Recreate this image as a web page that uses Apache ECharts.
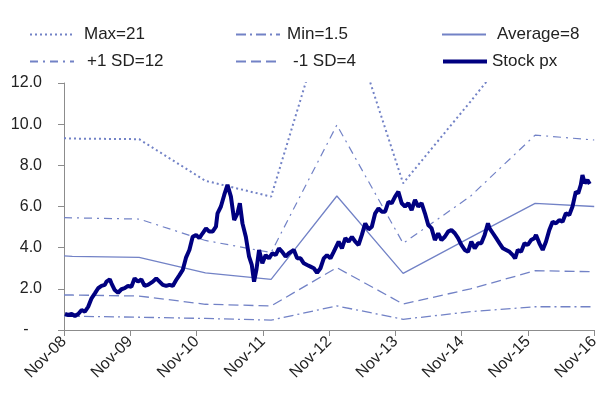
<!DOCTYPE html>
<html>
<head>
<meta charset="utf-8">
<script src="https://cdn.jsdelivr.net/npm/echarts@6/dist/echarts.min.js"></script>
<style>
html,body{margin:0;padding:0;background:#fff;}
#chart{width:602px;height:393px;}
</style>
</head>
<body>
<div id="chart"></div>
<script>
// x values are months since Nov-08
const tickLabels = ['Nov-08','Nov-09','Nov-10','Nov-11','Nov-12','Nov-13','Nov-14','Nov-15','Nov-16'];

const statMonths = [0, 1.5, 13.6, 25.6, 37.5, 49.4, 61.4, 73.6, 85.3, 96];
const maxVals   = [9.32, 9.30, 9.27, 7.25, 6.48, 17.0, 7.13, 11.1, 15.0, 15.0];
const sdUpVals  = [5.46, 5.45, 5.39, 4.35, 3.76, 9.96, 4.21, 6.50, 9.47, 9.23];
const avgVals   = [3.60, 3.58, 3.53, 2.78, 2.46, 6.51, 2.75, 4.50, 6.15, 6.00];
const sdDnVals  = [1.70, 1.70, 1.65, 1.25, 1.17, 3.03, 1.26, 2.00, 2.88, 2.83];
const minVals   = [0.68, 0.67, 0.62, 0.56, 0.48, 1.17, 0.52, 0.89, 1.13, 1.13];

const stockMonths = [0.18,0.77,1.39,1.98,2.58,3.19,3.78,4.38,4.99,5.59,6.18,6.79,7.39,7.69,8.29,8.59,9.19,9.78,10.40,10.99,11.59,12.20,12.79,13.39,14.00,14.59,15.19,16.09,16.70,17.30,17.89,18.50,19.10,19.69,20.31,20.90,21.50,22.11,22.70,23.30,23.91,24.50,25.10,25.71,26.31,26.90,27.51,27.80,28.41,29.01,29.60,30.22,30.81,31.41,31.84,32.31,32.92,33.51,34.00,34.41,34.83,35.32,35.91,36.52,37.12,37.71,38.32,38.92,39.51,40.13,40.72,41.62,42.22,42.83,43.42,44.02,44.63,45.23,45.82,46.43,47.03,47.62,48.24,48.83,49.73,50.32,50.94,51.53,52.13,52.74,53.33,53.93,54.54,55.14,55.73,56.34,56.94,57.53,58.14,58.74,59.33,59.95,60.54,61.14,61.75,62.34,62.94,63.55,64.14,64.74,65.35,65.95,66.54,67.15,67.75,68.34,68.95,69.55,70.14,70.76,71.35,71.95,72.56,73.15,73.75,74.36,74.95,75.55,76.16,76.76,77.06,77.66,78.25,78.86,79.46,80.05,80.67,81.26,81.68,82.16,82.76,83.37,83.96,84.56,85.17,85.46,86.07,86.67,87.26,87.87,88.47,89.06,89.67,90.27,90.87,91.48,92.07,92.67,93.10,93.57,93.87,94.29,94.77,95.19];
const stockPx = [0.78,0.73,0.78,0.68,0.78,0.97,0.89,1.13,1.54,1.78,2.03,2.14,2.19,2.35,2.46,2.27,1.94,1.81,1.98,2.03,2.14,2.10,2.51,2.35,2.46,2.14,2.19,2.35,2.51,2.35,2.19,2.14,2.19,2.14,2.43,2.67,2.92,3.53,3.89,4.53,4.62,4.46,4.70,4.94,4.78,4.78,5.02,5.67,6.00,6.56,7.05,6.48,5.34,5.67,6.16,5.18,4.53,3.56,3.16,2.35,2.92,3.89,3.24,3.64,3.48,3.73,3.64,3.97,3.80,3.56,3.73,3.89,3.48,3.48,3.24,3.16,3.08,3.00,2.78,3.00,3.48,3.64,3.48,3.80,4.29,3.97,4.46,4.29,4.53,4.29,4.13,4.62,5.18,4.89,5.02,5.67,5.91,5.75,5.75,6.23,6.16,6.48,6.72,6.16,6.00,6.16,5.83,6.32,6.00,6.16,5.67,5.10,4.95,4.37,4.70,4.37,4.53,4.78,4.86,4.70,4.46,4.13,3.89,3.80,4.29,3.97,4.21,4.21,4.62,5.18,4.94,4.70,4.46,4.21,3.97,3.89,3.80,3.64,3.48,3.89,3.80,4.21,4.13,4.37,4.46,4.62,4.21,3.89,4.29,4.86,5.26,5.18,5.34,5.26,5.67,5.59,6.00,6.72,6.64,7.05,7.53,7.13,7.29,7.09];

const statColor = '#7282c6';
const FONT = '"Liberation Sans", Arial, sans-serif';

function pairs(xs, ys){ return xs.map((x,i)=>[x, ys[i]]); }

const seriesDefs = [
  {name:'Max=21', data:pairs(statMonths,maxVals), lineStyle:{color:statColor,width:2,type:[2,3]}},
  {name:'Min=1.5', data:pairs(statMonths,minVals), lineStyle:{color:statColor,width:1.3,type:[10,4,2,4]}},
  {name:'Average=8', data:pairs(statMonths,avgVals), lineStyle:{color:statColor,width:1.3,type:'solid'}},
  {name:'+1 SD=12', data:pairs(statMonths,sdUpVals), lineStyle:{color:statColor,width:1.2,type:[8,5,2,5]}},
  {name:'-1 SD=4', data:pairs(statMonths,sdDnVals), lineStyle:{color:statColor,width:1.3,type:[10,5]}},
  {name:'Stock px', data:pairs(stockMonths,stockPx), lineStyle:{color:'#000080',width:4,type:'solid'}}
];

const series = seriesDefs.map(s=>({
  name:s.name, type:'line', data:s.data, symbol:'none', showSymbol:false,
  lineStyle:s.lineStyle, itemStyle:{color:s.lineStyle.color},
  clip:true, animation:false, z: s.name==='Stock px'?5:2
}));

const legendPos = [
  {name:'Max=21', left:29, top:26, pad:5},
  {name:'Min=1.5', left:235, top:26, pad:2},
  {name:'Average=8', left:441, top:26, pad:6},
  {name:'+1 SD=12', left:29, top:53, pad:8},
  {name:'-1 SD=4', left:235, top:53, pad:8},
  {name:'Stock px', left:441, top:53, pad:0, lw:4}
];

const legends = legendPos.map(l=>{
  const lg = {
    data:[l.name], left:l.left, top:l.top, padding:0, itemWidth:44, itemHeight:16,
    selectedMode:false,
    itemStyle:{opacity:0, borderWidth:0},
    textStyle:{fontFamily:FONT, fontSize:17, color:'#222', padding:[0,0,0,l.pad]}
  };
  if (l.lw) lg.lineStyle = {width:l.lw};
  return lg;
});

const chart = echarts.init(document.getElementById('chart'), null, {renderer:'canvas'});
chart.setOption({
  animation:false,
  backgroundColor:'#fff',
  legend: legends,
  grid:{left:64, right:5, top:83, bottom:63, containLabel:false},
  xAxis:{
    type:'value', min:0, max:96, interval:12,
    axisLine:{show:true, onZero:false, lineStyle:{color:'#8c8c8c', width:1}},
    axisTick:{show:true, length:6, lineStyle:{color:'#8c8c8c'}},
    splitLine:{show:false},
    axisLabel:{rotate:45, margin:9, fontFamily:FONT, fontSize:16, color:'#222',
      formatter:v=>tickLabels[Math.round(v/12)]}
  },
  yAxis:{
    type:'value', min:0, max:12, interval:2,
    axisLine:{show:true, lineStyle:{color:'#8c8c8c', width:1}},
    axisTick:{show:true, length:6, lineStyle:{color:'#8c8c8c'}},
    splitLine:{show:false},
    axisLabel:{margin:22, fontFamily:FONT, fontSize:16, color:'#222',
      formatter:v=> v===0 ? '-   ' : v.toFixed(1)}
  },
  series: series
});
</script>
</body>
</html>
